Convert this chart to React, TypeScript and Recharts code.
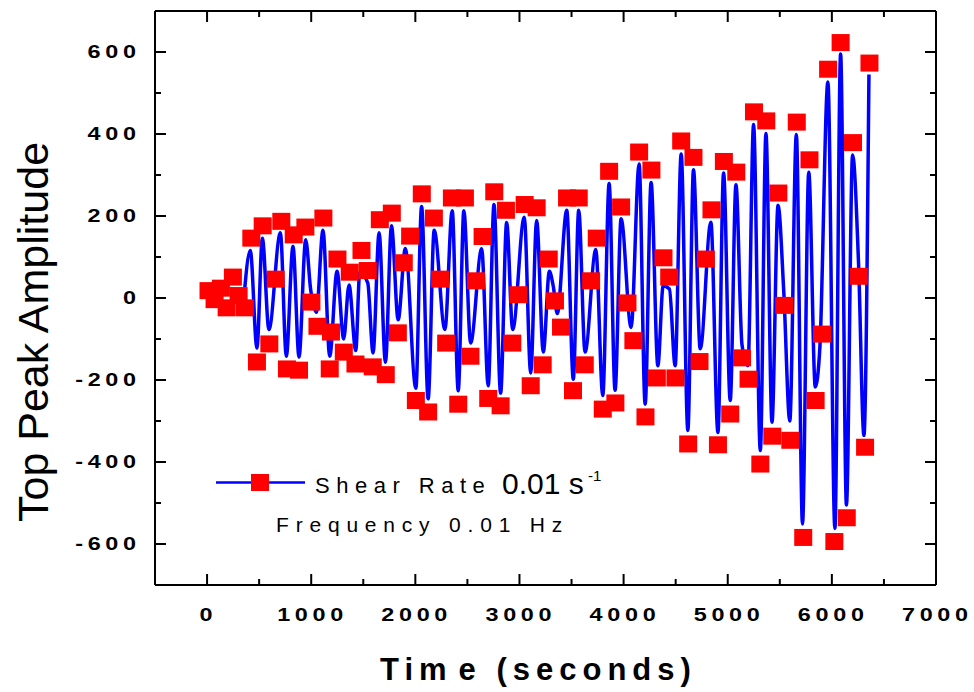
import React from 'react';
import { ComposedChart, Line, XAxis, YAxis } from 'recharts';

// red squares: sampled top peak amplitude
const redTime = [
  14, 72, 133, 188, 248, 303, 363, 425, 479, 534,
  598, 659, 713, 767, 832, 883, 944, 1002, 1060, 1117,
  1178, 1190, 1252, 1313, 1370, 1425, 1483, 1543, 1591, 1659,
  1716, 1774, 1832, 1889, 1950, 2005, 2062, 2123, 2178, 2238,
  2296, 2351, 2412, 2476, 2529, 2582, 2646, 2700, 2758, 2819,
  2870, 2931, 2988, 3050, 3108, 3165, 3223, 3281, 3341, 3399,
  3457, 3514, 3569, 3627, 3688, 3742, 3800, 3861, 3921, 3976,
  4037, 4094, 4149, 4210, 4267, 4319, 4383, 4438, 4498, 4553,
  4620, 4671, 4729, 4790, 4844, 4906, 4963, 5024, 5082, 5137,
  5200, 5252, 5313, 5370, 5428, 5486, 5543, 5601, 5663, 5725,
  5785, 5844, 5905, 5964, 6024, 6084, 6143, 6203, 6259, 6319,
  6361,
];
const redAmp = [
  18, -4, 24, -24, 51, 6, -24, 146, -156, 176,
  -112, 46, 187, -173, 154, -176, 173, -10, -69, 195,
  -173, -83, 95, -132, 63, -161, 116, 67, -168, 191,
  -187, 207, -85, 86, 151, -250, 254, -278, 195, 46,
  -110, 244, -259, 244, -142, 42, 150, -245, 259, -263,
  214, -110, 8, 228, -214, 220, -163, 95, -7, -71,
  244, -226, 244, -163, 42, 146, -271, 309, -256, 222,
  -12, -104, 356, -290, 312, -195, 98, 51, -195, 383,
  -356, 343, -155, 95, 215, -358, 333, -283, 307, -146,
  -198, 454, -405, 432, -337, 256, -18, -347, 429, -584,
  337, -250, -88, 558, -594, 623, -536, 379, 53, -364,
  573,
];

// blue trace: turning points of the oscillation
const blueTime = [
  352, 415, 479, 531, 594, 704, 761, 825, 883, 947,
  995, 1050, 1113, 1178, 1248, 1312, 1363, 1428, 1466, 1543,
  1594, 1652, 1713, 1771, 1835, 1904, 2005, 2060, 2123, 2181,
  2284, 2354, 2412, 2466, 2531, 2637, 2700, 2755, 2819, 2877,
  2935, 3046, 3108, 3165, 3229, 3287, 3325, 3363, 3454, 3517,
  3569, 3630, 3733, 3800, 3861, 3918, 3976, 4072, 4149, 4207,
  4264, 4329, 4380, 4440, 4495, 4553, 4617, 4671, 4736, 4838,
  4906, 4960, 5024, 5079, 5137, 5194, 5248, 5313, 5367, 5425,
  5483, 5538, 5596, 5659, 5718, 5778, 5841, 5885, 5962, 6029,
  6084, 6140, 6199, 6256, 6308, 6356,
];
const blueAmp = [
  -5, 116, -122, 146, -77, 159, -142, 126, -144, 142,
  20, -35, 165, -142, 65, -100, 32, -128, 62, 37,
  -134, 159, -157, 176, -53, 121, -220, 223, -246, 165,
  -77, 213, -226, 213, -110, 120, -214, 228, -232, 184,
  -77, 197, -183, 189, -132, 65, 28, -38, 214, -198,
  214, -132, 118, -238, 279, -225, 193, -72, 327, -259,
  282, -165, 30, 22, -165, 351, -323, 313, -124, 185,
  -328, 305, -250, 276, -114, -165, 423, -372, 401, -303,
  226, 16, -300, 399, -551, 307, -217, -120, 527, -562,
  595, -505, 349, 86, -335, 545,
];

const xTicks = [0, 500, 1000, 1500, 2000, 2500, 3000, 3500, 4000, 4500, 5000, 5500, 6000, 6500, 7000];
const yTicks = [-600, -500, -400, -300, -200, -100, 0, 100, 200, 300, 400, 500, 600];

const FONT = '"Liberation Sans", Arial, Helvetica, sans-serif';
// tick labels are wide, bold digits
const LS = 3.6;
const SX = 1.3;

const redData = redTime.map((t, i) => ({ t, v: redAmp[i] }));
const blueData = blueTime.map((t, i) => ({ t, v: blueAmp[i] }));

const BottomTick = (props: any) => {
  const { x, y, payload } = props;
  const major = payload.value % 1000 === 0;
  return (
    <g>
      <line x1={x} y1={y} x2={x} y2={y - (major ? 11 : 6)} stroke="#000" strokeWidth={2} />
      {major && (
        <text transform={`translate(${x - 1},${y + 36}) scale(${SX},1)`} x={LS / 2} textAnchor="middle"
          fontFamily={FONT} fontWeight="bold" fontSize={18} letterSpacing={LS} fill="#000">
          {payload.value}
        </text>
      )}
    </g>
  );
};

const LeftTick = (props: any) => {
  const { x, y, payload } = props;
  const major = payload.value % 200 === 0;
  return (
    <g>
      <line x1={x} y1={y} x2={x + (major ? 11 : 6)} y2={y} stroke="#000" strokeWidth={2} />
      {major && (
        <text transform={`translate(${x - 19},${y}) scale(${SX},1)`} x={LS} dy="0.36em" textAnchor="end"
          fontFamily={FONT} fontWeight="bold" fontSize={18} letterSpacing={LS} fill="#000">
          {payload.value}
        </text>
      )}
    </g>
  );
};

const TopTick = (props: any) => {
  const { x, y, payload } = props;
  const major = payload.value % 1000 === 0;
  return <line x1={x} y1={y} x2={x} y2={y + (major ? 11 : 6)} stroke="#000" strokeWidth={2} />;
};

const RightTick = (props: any) => {
  const { x, y, payload } = props;
  const major = payload.value % 200 === 0;
  return <line x1={x} y1={y} x2={x - (major ? 11 : 6)} y2={y} stroke="#000" strokeWidth={2} />;
};

const Square = (props: any) => {
  const { cx, cy, index } = props;
  if (cx == null || cy == null) return null;
  return <rect key={`sq-${index}`} x={cx - 9} y={cy - 8.5} width={18} height={17} fill="#FF0000" />;
};

const axisLine = { stroke: '#000', strokeWidth: 2 };

export default function App() {
  return (
    <div style={{ position: 'absolute', left: 0, top: 0, width: 974, height: 692, background: '#fff' }}>
      <ComposedChart width={974} height={692} margin={{ top: 1, right: 28, bottom: 67, left: 95 }}>
        <XAxis xAxisId="b" type="number" dataKey="t" domain={[-500, 7000]} ticks={xTicks} interval={0}
          orientation="bottom" height={40} tickSize={0} tickMargin={0} tickLine={false} axisLine={axisLine} tick={BottomTick} allowDataOverflow />
        <XAxis xAxisId="top" type="number" dataKey="t" domain={[-500, 7000]} ticks={xTicks} interval={0}
          orientation="top" height={10} tickSize={0} tickMargin={0} tickLine={false} axisLine={axisLine} tick={TopTick} allowDataOverflow />
        <YAxis yAxisId="l" type="number" domain={[-700, 700]} ticks={yTicks} interval={0}
          orientation="left" width={60} tickSize={0} tickMargin={0} tickLine={false} axisLine={axisLine} tick={LeftTick} allowDataOverflow />
        <YAxis yAxisId="r" type="number" domain={[-700, 700]} ticks={yTicks} interval={0}
          orientation="right" width={10} tickSize={0} tickMargin={0} tickLine={false} axisLine={axisLine} tick={RightTick} allowDataOverflow />
        <Line xAxisId="b" yAxisId="l" data={blueData} dataKey="v" type="monotone" stroke="#0000FF" strokeWidth={3.5}
          dot={false} activeDot={false} isAnimationActive={false} />
        <Line xAxisId="b" yAxisId="l" data={redData} dataKey="v" stroke="none" dot={Square}
          activeDot={false} isAnimationActive={false} />
        <Line xAxisId="top" yAxisId="r" data={redData} dataKey="v" stroke="none" dot={false}
          activeDot={false} isAnimationActive={false} legendType="none" />
      </ComposedChart>

      <svg width={974} height={692} style={{ position: 'absolute', left: 0, top: 0, pointerEvents: 'none' }}>
        <text transform="translate(48,332) rotate(-90)" textAnchor="middle" fontFamily={FONT} fontSize={43} fill="#000">
          Top Peak Amplitude
        </text>
        <text x={380} y={680} fontFamily={FONT} fontWeight="bold" fontSize={31} letterSpacing={6} fill="#000">
          <tspan>Tim</tspan>
          <tspan dx={6}>e (seconds)</tspan>
        </text>

        <line x1={216} y1={482.5} x2={305} y2={482.5} stroke="#0000FF" strokeWidth={2.5} />
        <rect x={251} y={474} width={18} height={17} fill="#FF0000" />
        <text x={315} y={493} fontFamily={FONT} fontSize={22} letterSpacing={6.5} fill="#000">Shear Rate</text>
        <text x={502} y={494} fontFamily={FONT} fontSize={30} fill="#000">0.01 s</text>
        <text x={588} y={481} fontFamily={FONT} fontSize={15} fill="#000">-1</text>
        <text x={276} y={532} fontFamily={FONT} fontSize={21} letterSpacing={6.8} fill="#000">Frequency 0.01 Hz</text>
      </svg>
    </div>
  );
}
